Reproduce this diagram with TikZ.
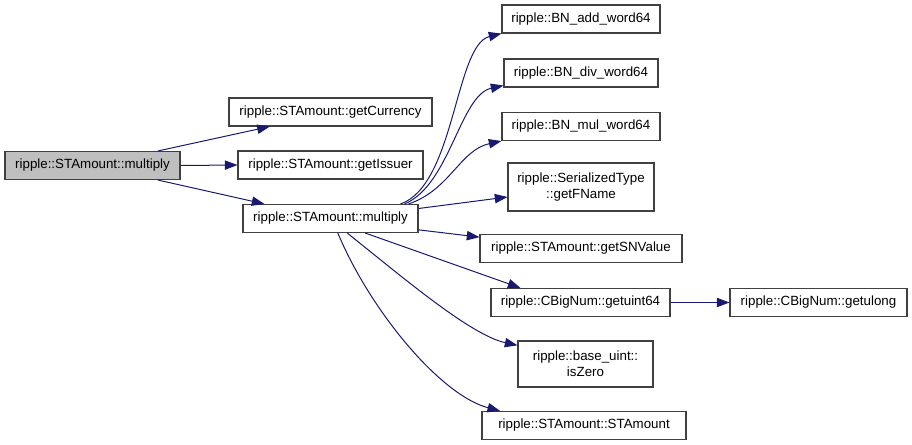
\documentclass[tikz,border=0pt]{standalone}
\usepackage{fontspec}
\setmainfont{Liberation Sans}
\usetikzlibrary{arrows.meta, positioning}

\definecolor{callblue}{HTML}{191970}
\definecolor{boxline}{HTML}{404040}
\definecolor{rootfill}{HTML}{BFBFBF}

\begin{document}
\begin{tikzpicture}[
  x=0.75pt, y=-0.75pt,
  fn/.style={rectangle, draw=boxline, line width=0.8pt, fill=white, inner sep=0pt,
    minimum height=21pt, font=\fontsize{10pt}{12pt}\selectfont, align=center},
  root/.style={fn, fill=rootfill},
  call/.style={-{Triangle[length=9.5pt, width=7pt]}, draw=callblue, line width=0.75pt}
]
\useasboundingbox (0,0) rectangle (912,445);

% caller and its direct callees
\node[root, minimum width=131.25pt] (main) at (92.5,165.5) {ripple::STAmount::multiply};
\node[fn, minimum width=152.25pt] (currency) at (330.5,112) {ripple::STAmount::getCurrency};
\node[fn, minimum width=138.75pt] (issuer) at (330.5,165) {ripple::STAmount::getIssuer};
\node[fn, minimum width=131.25pt] (mult) at (330.5,218.5) {ripple::STAmount::multiply};

% callees of the inner multiply
\node[fn, minimum width=118.5pt] (addw) at (581,19) {ripple::BN\_add\_word64};
\node[fn, minimum width=115.5pt] (divw) at (581,73) {ripple::BN\_div\_word64};
\node[fn, minimum width=118.5pt] (mulw) at (581,126.5) {ripple::BN\_mul\_word64};
\node[fn, minimum width=109.5pt, minimum height=36pt] (fname) at (581,187) {ripple::SerializedType\\::getFName};
\node[fn, minimum width=151.5pt] (snvalue) at (581,248.5) {ripple::STAmount::getSNValue};
\node[fn, minimum width=134.25pt] (uint64) at (580.5,302.5) {ripple::CBigNum::getuint64};
\node[fn, minimum width=101.25pt, minimum height=34.5pt] (iszero) at (585.5,364) {ripple::base\_uint::\\isZero};
\node[fn, minimum width=153pt] (ctor) at (584,425.5) {ripple::STAmount::STAmount};
\node[fn, minimum width=132.75pt] (ulong) at (818.5,302.5) {ripple::CBigNum::getulong};

% edges
\draw[call] ([xshift=-17pt]main.north east) -- ([xshift=31pt]currency.south west);
\draw[call] (main.east) -- (issuer.west);
\draw[call] ([xshift=-17pt]main.south east) -- ([xshift=16.5pt]mult.north west);

\draw[call] ([xshift=-13.5pt]mult.north east) .. controls (455,185) and (455,45) .. (addw.south west);
\draw[call] ([xshift=-10.5pt]mult.north east) .. controls (450,185) and (460,95) .. ([yshift=1.5pt]divw.south west);
\draw[call] ([xshift=-7.5pt]mult.north east) .. controls (450,190) and (460,150) .. (mulw.south west);
\draw[call] ([yshift=7.5pt]mult.east) -- ([yshift=-7.5pt]fname.west);
\draw[call] ([yshift=-8.5pt]mult.east) -- ([yshift=8.5pt]snvalue.west);
\draw[call] ([xshift=26pt]mult.south) -- ([xshift=-45pt]uint64.north);
\draw[call] ([xshift=12.5pt]mult.south) .. controls (400,275) and (470,335) .. ([yshift=14pt]iszero.west);
\draw[call] ([xshift=5.5pt]mult.south) .. controls (370,310) and (440,395) .. ([xshift=14pt]ctor.north west);

\draw[call] (uint64.east) -- (ulong.west);
\end{tikzpicture}
\end{document}
